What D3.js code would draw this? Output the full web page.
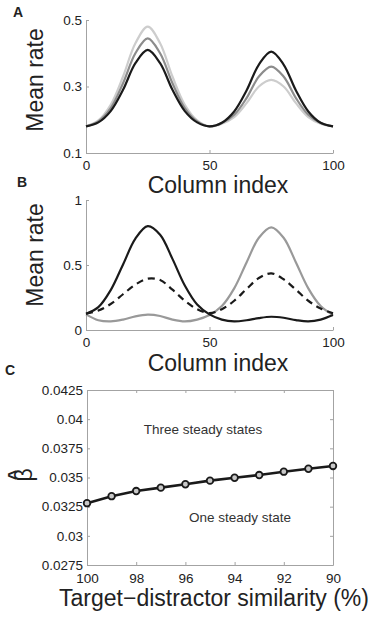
<!DOCTYPE html>
<html>
<head>
<meta charset="utf-8">
<script src="https://cdn.jsdelivr.net/npm/d3@7"></script>
<style>
  body { margin: 0; background: #fff; }
  text { font-family: "Liberation Sans", Arial, Helvetica, sans-serif; }
</style>
</head>
<body>
<div id="graph-container"></div>
<script>
// Column positions shared by panels A and B
var columns = [0, 5, 10, 15, 20, 25, 30, 35, 40, 45, 50, 55, 60, 65, 70, 75, 80, 85, 90, 95, 100];

// Panel A: mean rate for three conditions
var rateADark  = [0.18, 0.192, 0.226, 0.29, 0.37, 0.41, 0.37, 0.29, 0.226, 0.192, 0.18, 0.191, 0.225, 0.288, 0.366, 0.405, 0.366, 0.288, 0.225, 0.191, 0.18];
var rateAMid   = [0.18, 0.195, 0.235, 0.31, 0.40, 0.445, 0.40, 0.31, 0.235, 0.195, 0.18, 0.19, 0.215, 0.265, 0.33, 0.36, 0.33, 0.265, 0.215, 0.19, 0.18];
var rateALight = [0.18, 0.198, 0.245, 0.33, 0.43, 0.48, 0.43, 0.33, 0.245, 0.198, 0.18, 0.188, 0.208, 0.25, 0.30, 0.32, 0.30, 0.25, 0.208, 0.188, 0.18];

// Panel B: mean rate for the three steady states
var rateBBlack  = [0.125, 0.176, 0.307, 0.504, 0.703, 0.799, 0.733, 0.547, 0.342, 0.196, 0.12, 0.08, 0.066, 0.075, 0.092, 0.102, 0.094, 0.076, 0.066, 0.08, 0.115];
var rateBGray   = [0.12, 0.075, 0.066, 0.08, 0.105, 0.118, 0.108, 0.08, 0.066, 0.08, 0.115, 0.184, 0.32, 0.519, 0.71, 0.79, 0.71, 0.519, 0.32, 0.184, 0.115];
var rateBDashed = [0.125, 0.15, 0.2, 0.275, 0.35, 0.395, 0.385, 0.31, 0.225, 0.16, 0.13, 0.16, 0.225, 0.315, 0.4, 0.435, 0.39, 0.31, 0.225, 0.165, 0.128];

// Panel C: critical beta against similarity
var similarity = [100, 99, 98, 97, 96, 95, 94, 93, 92, 91, 90];
var betaHat = [0.0328, 0.0334, 0.03384, 0.03413, 0.03442, 0.03473, 0.03498, 0.03521, 0.0355, 0.03575, 0.03599];

// Tick labels
var ticksAX = [0, 50, 100];
var ticksAY = [0.1, 0.3, 0.5];
var ticksBY = [0, 0.5, 1];
var ticksCX = [100, 98, 96, 94, 92, 90];
var ticksCY = [0.0275, 0.03, 0.0325, 0.035, 0.0375, 0.04, 0.0425];

var svgWidth = 373;
var svgHeight = 621;
var axisGray = "#a3a3a3";
var textColor = "#222";

var svg = d3.select("#graph-container")
  .append("svg")
  .attr("width", svgWidth)
  .attr("height", svgHeight);

svg.append("rect").attr("width", svgWidth).attr("height", svgHeight).attr("fill", "#fff");

function styleAxis(g) {
  g.select(".domain").attr("stroke", axisGray);
  g.selectAll(".tick line").attr("stroke", axisGray);
  g.selectAll(".tick text")
    .attr("fill", textColor)
    .style("font-size", "13.5px")
    .style("font-family", "'Liberation Sans', Arial, sans-serif");
}

var xCol = d3.scaleLinear().domain([0, 100]).range([86, 333]);

function drawRatePanel(yScale, yTicks, yFmt, top, bottom, series) {
  svg.append("g")
    .attr("transform", "translate(0," + bottom + ")")
    .call(d3.axisBottom(xCol).tickValues(ticksAX).tickSize(-3).tickPadding(7).tickSizeOuter(0))
    .call(styleAxis);
  svg.append("g")
    .attr("transform", "translate(86,0)")
    .call(d3.axisLeft(yScale).tickValues(yTicks).tickFormat(yFmt).tickSize(-3).tickPadding(4).tickSizeOuter(0))
    .call(styleAxis);

  var line = d3.line()
    .x(function (d) { return xCol(d.x); })
    .y(function (d) { return yScale(d.y); })
    .curve(d3.curveCatmullRom);

  series.forEach(function (s) {
    var pts = columns.map(function (c, i) { return { x: c, y: s.values[i] }; });
    svg.append("path")
      .datum(pts)
      .attr("fill", "none")
      .attr("stroke", s.color)
      .attr("stroke-width", 2.2)
      .attr("stroke-dasharray", s.dash || null)
      .attr("d", line);
  });
}

// ---- Panel A ----
var yA = d3.scaleLinear().domain([0.1, 0.5]).range([153, 20]);
drawRatePanel(yA, ticksAY, d3.format(".1f"), 20, 153, [
  { values: rateALight, color: "#cdcdcd" },
  { values: rateAMid, color: "#8c8c8c" },
  { values: rateADark, color: "#1a1a1a" }
]);

// ---- Panel B ----
var yB = d3.scaleLinear().domain([0, 1]).range([330, 200]);
drawRatePanel(yB, ticksBY, function (d) { return d === 0.5 ? "0.5" : String(d); }, 200, 330, [
  { values: rateBGray, color: "#999999" },
  { values: rateBDashed, color: "#1a1a1a", dash: "7,5" },
  { values: rateBBlack, color: "#1a1a1a" }
]);

// Axis labels for A and B
[{ y: 193, ly: 80 }, { y: 371, ly: 255 }].forEach(function (p) {
  svg.append("text")
    .attr("x", 218).attr("y", p.y)
    .attr("text-anchor", "middle")
    .style("font-size", "23px")
    .attr("fill", textColor)
    .text("Column index");
  svg.append("text")
    .attr("transform", "translate(43," + p.ly + ") rotate(-90)")
    .attr("text-anchor", "middle")
    .style("font-size", "23px")
    .attr("fill", textColor)
    .text("Mean rate");
});

// ---- Panel C ----
var xC = d3.scaleLinear().domain([100, 90]).range([87, 333]);
var yC = d3.scaleLinear().domain([0.0275, 0.0425]).range([565, 390]);

svg.append("g")
  .attr("transform", "translate(0,565)")
  .call(d3.axisBottom(xC).tickValues(ticksCX).tickFormat(d3.format("d")).tickSize(-3).tickPadding(8).tickSizeOuter(0))
  .call(styleAxis);
svg.append("g")
  .attr("transform", "translate(0,390)")
  .call(d3.axisTop(xC).tickValues(ticksCX).tickFormat("").tickSize(-3).tickSizeOuter(0))
  .call(styleAxis);
svg.append("g")
  .attr("transform", "translate(87,0)")
  .call(d3.axisLeft(yC).tickValues(ticksCY).tickFormat(function (d) { return String(+d.toFixed(4)); }).tickSize(-3).tickPadding(4).tickSizeOuter(0))
  .call(styleAxis);
svg.append("g")
  .attr("transform", "translate(333,0)")
  .call(d3.axisRight(yC).tickValues(ticksCY).tickFormat("").tickSize(-3).tickSizeOuter(0))
  .call(styleAxis);

var pointsC = similarity.map(function (s, i) { return { x: s, y: betaHat[i] }; });

svg.append("path")
  .datum(pointsC)
  .attr("fill", "none")
  .attr("stroke", "#1a1a1a")
  .attr("stroke-width", 2.6)
  .attr("d", d3.line()
    .x(function (d) { return xC(d.x); })
    .y(function (d) { return yC(d.y); }));

svg.selectAll(".marker")
  .data(pointsC)
  .enter()
  .append("circle")
  .attr("class", "marker")
  .attr("cx", function (d) { return xC(d.x); })
  .attr("cy", function (d) { return yC(d.y); })
  .attr("r", 3.3)
  .attr("fill", "#c8c8c8")
  .attr("stroke", "#1a1a1a")
  .attr("stroke-width", 1.8);

svg.append("text")
  .attr("x", 203).attr("y", 434)
  .attr("text-anchor", "middle")
  .style("font-size", "13.5px")
  .attr("fill", "#333")
  .text("Three steady states");

svg.append("text")
  .attr("x", 240).attr("y", 522)
  .attr("text-anchor", "middle")
  .style("font-size", "13.5px")
  .attr("fill", "#333")
  .text("One steady state");

svg.append("text")
  .attr("x", 214).attr("y", 606)
  .attr("text-anchor", "middle")
  .style("font-size", "23px")
  .attr("fill", textColor)
  .text("Target\u2212distractor similarity (%)");

// Y label of panel C: beta with a hat, rotated
var betaLabel = svg.append("g")
  .attr("transform", "translate(32,475) rotate(-90)");
betaLabel.append("text")
  .attr("text-anchor", "middle")
  .style("font-size", "23px")
  .attr("fill", textColor)
  .text("\u03B2");
betaLabel.append("text")
  .attr("x", 0).attr("y", -11)
  .attr("text-anchor", "middle")
  .style("font-size", "18px")
  .style("font-weight", "bold")
  .attr("fill", textColor)
  .text("^");

// Panel letters
[{ t: "A", x: 18, y: 17 }, { t: "B", x: 22, y: 187 }, { t: "C", x: 10, y: 375 }].forEach(function (p) {
  svg.append("text")
    .attr("x", p.x).attr("y", p.y)
    .attr("text-anchor", "middle")
    .style("font-size", "14px")
    .style("font-weight", "bold")
    .attr("fill", textColor)
    .text(p.t);
});
</script>
</body>
</html>
